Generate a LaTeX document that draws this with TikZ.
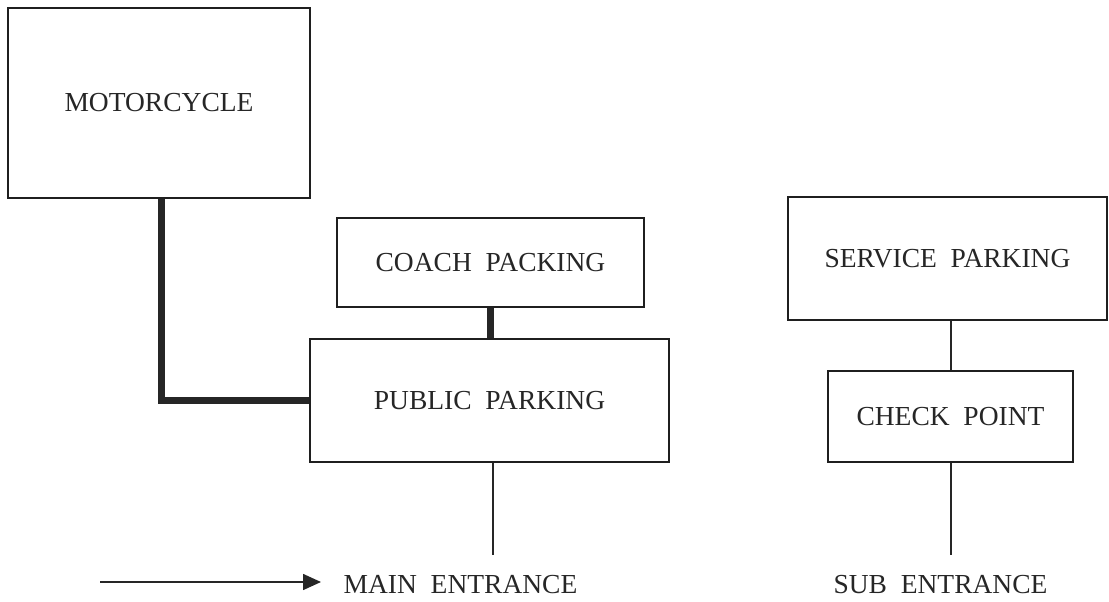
\documentclass[tikz,border=0pt]{standalone}
\usepackage{fontspec}
\setmainfont{Liberation Serif}
\usetikzlibrary{arrows.meta}
\tikzset{
  box/.style={draw=black!88, line width=1.6pt, fill=white, inner sep=0pt, font=\fontsize{27.5}{32}\selectfont, text=black!85},
  lbl/.style={inner sep=0pt, font=\fontsize{27.5}{32}\selectfont, text=black!85},
  heavy/.style={draw=black!85, line width=7pt},
  thinline/.style={draw=black!85, line width=1.5pt},
  arr/.style={draw=black!85, line width=1.6pt, -{Triangle[length=18pt,width=16pt]}}
}
\begin{document}
\begin{tikzpicture}[x=1pt,y=-1pt]
\useasboundingbox (0,0) rectangle (1109,602);
\node[box, minimum width=302pt, minimum height=190pt] (moto) at (159,103) {MOTORCYCLE};
\node[box, minimum width=307pt, minimum height=89pt] (coach) at (490.5,262.5) {COACH\ \ PACKING};
\node[box, minimum width=359pt, minimum height=123pt] (public) at (489.5,400.5) {PUBLIC\ \ PARKING};
\node[box, minimum width=319pt, minimum height=123pt] (service) at (947.5,258.5) {SERVICE\ \ PARKING};
\node[box, minimum width=245pt, minimum height=91pt] (check) at (950.5,416.5) {CHECK\ \ POINT};
\coordinate (mainend) at (493,555);
\coordinate (subend) at (951,555);
\coordinate (arrstart) at (100,582);
\coordinate (arrend) at (321,582);
\node[lbl] (main) at (460.5,585) {MAIN\ \ ENTRANCE};
\node[lbl] (sub) at (940.5,585) {SUB\ \ ENTRANCE};
\draw[heavy] ([xshift=2pt]moto.south) |- (public.west);
\draw[heavy] (coach.south) -- (coach.south |- public.north);
\draw[thinline] ([xshift=3.5pt]public.south) -- (mainend);
\draw[thinline] (subend |- service.south) -- (subend |- check.north);
\draw[thinline] (subend |- check.south) -- (subend);
\draw[arr] (arrstart) -- (arrend);
\end{tikzpicture}
\end{document}
